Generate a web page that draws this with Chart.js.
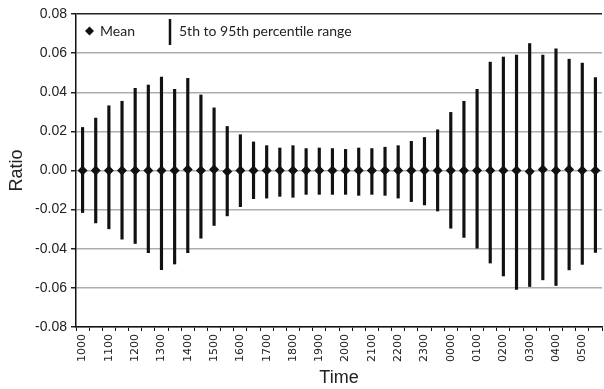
<!DOCTYPE html>
<html>
<head>
<meta charset="utf-8">
<script src="https://cdn.jsdelivr.net/npm/chart.js@4/dist/chart.umd.min.js"></script>
<style>
  html, body { margin: 0; padding: 0; background: #fff; overflow: hidden; }
  #wrap { width: 607px; height: 389px; }
</style>
</head>
<body>
<div id="wrap"><canvas id="chart"></canvas></div>
<script>
"use strict";

// half-hour slots, 1000 through 0530
const times = [
  "1000", "1030", "1100", "1130", "1200", "1230", "1300", "1330", "1400", "1430",
  "1500", "1530", "1600", "1630", "1700", "1730", "1800", "1830", "1900", "1930",
  "2000", "2030", "2100", "2130", "2200", "2230", "2300", "2330", "0000", "0030",
  "0100", "0130", "0200", "0230", "0300", "0330", "0400", "0430", "0500", "0530",
];

// 95th percentile (top of each line)
const p95 = [
  0.0220, 0.0268, 0.0331, 0.0354, 0.0420, 0.0437, 0.0478, 0.0415, 0.0471, 0.0386,
  0.0320, 0.0225, 0.0183, 0.0146, 0.0127, 0.0115, 0.0127, 0.0112, 0.0115, 0.0112,
  0.0108, 0.0115, 0.0112, 0.0119, 0.0127, 0.0149, 0.0169, 0.0208, 0.0297, 0.0354,
  0.0415, 0.0554, 0.0580, 0.0590, 0.0649, 0.0590, 0.0622, 0.0569, 0.0549, 0.0475,
];

// 5th percentile (bottom of each line)
const p5 = [
  -0.0215, -0.0268, -0.0298, -0.0351, -0.0373, -0.0420, -0.0507, -0.0478, -0.0420, -0.0346,
  -0.0281, -0.0232, -0.0185, -0.0144, -0.0141, -0.0132, -0.0137, -0.0122, -0.0122, -0.0122,
  -0.0122, -0.0127, -0.0122, -0.0127, -0.0141, -0.0159, -0.0176, -0.0207, -0.0295, -0.0342,
  -0.0397, -0.0473, -0.0539, -0.0608, -0.0593, -0.0559, -0.0588, -0.0508, -0.0480, -0.0419,
];

const means = [
  0, 0, 0, 0, 0, 0, 0, 0, 0.0005, 0,
  0.0005, -0.0005, 0, 0, 0, 0, 0, 0, 0, 0,
  0, 0, 0, 0, 0, 0, 0, 0, 0, 0,
  0, 0, 0, 0, -0.0005, 0.0005, 0, 0.0005, 0, 0,
];

const yTicks = [-0.08, -0.06, -0.04, -0.02, 0, 0.02, 0.04, 0.06, 0.08];

const ranges = p5.map((lo, i) => [lo, p95[i]]);

// legend drawn inside the plot, top left
const insideLegend = {
  id: "insideLegend",
  afterDraw(chart) {
    const ctx = chart.ctx;
    const a = chart.chartArea;
    const y = a.top + 17;
    ctx.save();
    // diamond
    ctx.fillStyle = "#111";
    ctx.beginPath();
    const dx = a.left + 13.5;
    ctx.moveTo(dx, y - 4.5);
    ctx.lineTo(dx + 4.5, y);
    ctx.lineTo(dx, y + 4.5);
    ctx.lineTo(dx - 4.5, y);
    ctx.closePath();
    ctx.fill();
    ctx.font = "14px Lato";
    ctx.textBaseline = "middle";
    ctx.fillStyle = "#222";
    ctx.fillText("Mean", a.left + 24, y);
    // range line
    ctx.strokeStyle = "#111";
    ctx.lineWidth = 2.5;
    ctx.beginPath();
    ctx.moveTo(a.left + 94, y - 12);
    ctx.lineTo(a.left + 94, y + 14);
    ctx.stroke();
    ctx.fillText("5th to 95th percentile range", a.left + 103, y);
    ctx.restore();
  },
};

const config = {
  data: {
    labels: times,
    datasets: [
      {
        type: "line",
        label: "Mean",
        data: means,
        showLine: false,
        pointStyle: "rectRot",
        pointRadius: 5,
        pointBackgroundColor: "#111",
        pointBorderColor: "#111",
        pointBorderWidth: 0,
        order: 0,
      },
      {
        type: "bar",
        label: "5th to 95th percentile range",
        data: ranges,
        backgroundColor: "#111",
        borderWidth: 0,
        barThickness: 2.5,
        order: 1,
      },
    ],
  },
  options: {
    responsive: true,
    maintainAspectRatio: false,
    animation: false,
    layout: { padding: { top: 14, right: 0, left: 0, bottom: 0 } },
    plugins: {
      legend: { display: false },
      tooltip: { enabled: false },
    },
    scales: {
      x: {
        type: "category",
        offset: true,
        afterFit(scale) {
          scale.height = 62;
          scale.paddingLeft = 0;
          scale.paddingRight = 0;
        },
        grid: {
          offset: true,
          drawOnChartArea: false,
          drawTicks: true,
          tickLength: 4,
          tickColor: "#111",
        },
        border: { color: "#111", width: 1.5 },
        ticks: {
          autoSkip: false,
          maxRotation: 90,
          minRotation: 90,
          padding: 3,
          color: "#222",
          font: { family: "DejaVu Sans", size: 11 },
          callback(value, index) {
            return index % 2 === 0 ? times[index] : "";
          },
        },
        title: {
          display: true,
          text: "Time",
          color: "#222",
          font: { family: "Liberation Sans", size: 18 },
          padding: { top: 0, bottom: 0 },
        },
      },
      y: {
        min: -0.08,
        max: 0.08,
        afterFit(scale) {
          scale.width = 76;
        },
        afterBuildTicks(scale) {
          scale.ticks = yTicks.map((v) => ({ value: v }));
        },
        grid: {
          color(c) {
            return c.tick && c.tick.value === 0.08 ? "#222" : "#adadad";
          },
          lineWidth: 1.5,
          tickColor: "#222",
          tickLength: 5,
        },
        border: { color: "#111", width: 1.5 },
        ticks: {
          padding: 4,
          color: "#222",
          font: { family: "Liberation Sans", size: 14 },
          callback(value) {
            return Number(value).toFixed(2);
          },
        },
        title: {
          display: true,
          text: "Ratio",
          color: "#222",
          font: { family: "Liberation Sans", size: 18 },
          padding: { top: 6, bottom: 0 },
        },
      },
    },
  },
  plugins: [insideLegend],
};

const myChart = new Chart(document.getElementById("chart"), config);
</script>
</body>
</html>
